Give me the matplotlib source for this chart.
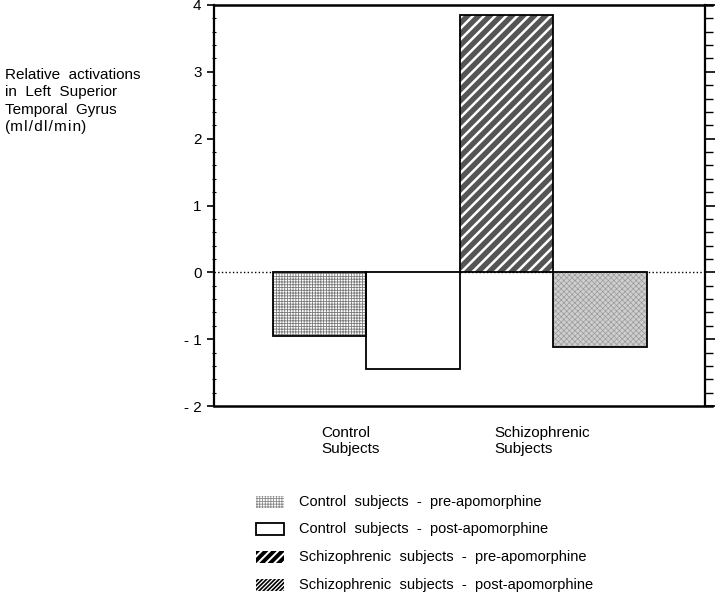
import matplotlib
matplotlib.use("Agg")
import matplotlib.pyplot as plt
from matplotlib.patches import Rectangle
import numpy as np

plt.rcParams['font.family'] = ['Liberation Sans', 'DejaVu Sans']
plt.rcParams['font.size'] = 10

# data
bar_names = ["Control pre", "Control post", "Schizophrenic pre", "Schizophrenic post"]
bar_values = [-0.95, -1.45, 3.85, -1.11]
group_labels = ["Control\nSubjects", "Schizophrenic\nSubjects"]
legend_labels = [
    "Control  subjects  -  pre-apomorphine",
    "Control  subjects  -  post-apomorphine",
    "Schizophrenic  subjects  -  pre-apomorphine",
    "Schizophrenic  subjects  -  post-apomorphine",
]
y_ticks = [-2, -1, 0, 1, 2, 3, 4]
y_tick_labels = ["- 2", "- 1", "0", "1", "2", "3", "4"]
hs = "\u200a"
unit_label = "(" + hs.join("ml/dl/min") + ")"


def hatch_lw(artist, w):
    # hatch width is read from rcParams when the patch is made
    try:
        artist.set_hatch_linewidth(w)
    except AttributeError:
        pass


fig = plt.figure(figsize=(7.2, 5.96), dpi=100)
ax = fig.add_axes([214/720, 1-406/596, (705-214)/720, (406-5)/596])

x = np.arange(len(bar_values))

# bar styles: (face, hatch, hatch colour, hatch lw)
styles = [
    ("white", "++++++", "#7a7a7a", 0.6),
    ("white", None, None, 0),
    ("#555555", "///", "white", 1.8),
    ("#cfcfcf", "xxxxxx", "#9a9a9a", 0.5),
]

for xi, v, (fc, h, hc, hlw) in zip(x, bar_values, styles):
    if h is not None:
        plt.rcParams['hatch.linewidth'] = hlw
        b = ax.bar(xi, v, width=1.0, color=fc, edgecolor=hc, hatch=h, linewidth=0, zorder=2)
        hatch_lw(b[0], hlw)
    else:
        ax.bar(xi, v, width=1.0, color=fc, linewidth=0, zorder=2)
    ax.bar(xi, v, width=1.0, fill=False, edgecolor="black", linewidth=1.3, zorder=3)

ax.axhline(0, color="black", linestyle=":", linewidth=1.0, zorder=1)

ax.set_xlim(-1.13, 4.12)
ax.set_ylim(-2, 4)
ax.set_xticks([])
ax.set_yticks(y_ticks)
ax.set_yticklabels(y_tick_labels)
ax.set_yticks(np.arange(-2, 4.01, 0.2), minor=True)
ax.tick_params(axis='y', which='major', direction='out', length=5, width=1.2, pad=4, labelsize=11)
ax.tick_params(axis='y', which='minor', direction='inout', length=3, width=0.8)

for s in ["top", "bottom"]:
    ax.spines[s].set_visible(False)
for s in ["left", "right"]:
    ax.spines[s].set_linewidth(1.6)
ax.plot([0, 1.015], [1, 1], transform=ax.transAxes, color="black", lw=1.8, clip_on=False)
ax.plot([0, 1.015], [0, 0], transform=ax.transAxes, color="black", lw=1.8, clip_on=False)

# right-hand tick column
ax2 = ax.twinx()
ax2.set_ylim(-2, 4)
ax2.set_yticks(y_ticks)
ax2.set_yticklabels([])
ax2.set_yticks(np.arange(-2, 4.01, 0.2), minor=True)
ax2.tick_params(axis='y', which='major', direction='out', length=7, width=1.2)
ax2.tick_params(axis='y', which='minor', direction='out', length=6, width=1.0)
for s in ["top", "bottom", "left", "right"]:
    ax2.spines[s].set_visible(False)

# group labels
for gx, lab in zip([0.02, 1.87], group_labels):
    ax.text(gx, -0.05, lab, transform=ax.get_xaxis_transform(), ha="left", va="top",
            fontsize=11, linespacing=1.2)

fig.text(5/720, 1-68/596, "Relative  activations\nin  Left  Superior\nTemporal  Gyrus\n" + unit_label,
         ha="left", va="top", fontsize=11, linespacing=1.3)

# legend, drawn by hand in pixel coordinates
lax = fig.add_axes([0, 0, 1, 110/596])
lax.set_xlim(0, 720)
lax.set_ylim(110, 0)
lax.axis("off")
legend_styles = [
    ("white", "#8a8a8a", "++++++", 0.6, 0),
    ("white", "black", None, 0, 1.3),
    ("white", "black", "////", 2.8, 0),
    ("white", "black", "////////", 1.2, 0),
]
row_y = [502, 529, 557, 585]
for ry, lab, (fc, ec, h, hlw, lw) in zip(row_y, legend_labels, legend_styles):
    yy = ry - 486
    if h is not None:
        plt.rcParams['hatch.linewidth'] = hlw
        r = Rectangle((256, yy - 6), 28, 12, facecolor=fc, edgecolor=ec, hatch=h, linewidth=lw)
        hatch_lw(r, hlw)
    else:
        r = Rectangle((256, yy - 6), 28, 12, facecolor=fc, edgecolor=ec, linewidth=lw)
    lax.add_patch(r)
    lax.text(299, yy, lab, ha="left", va="center", fontsize=10.5)

fig.savefig("out.png", dpi=100)
